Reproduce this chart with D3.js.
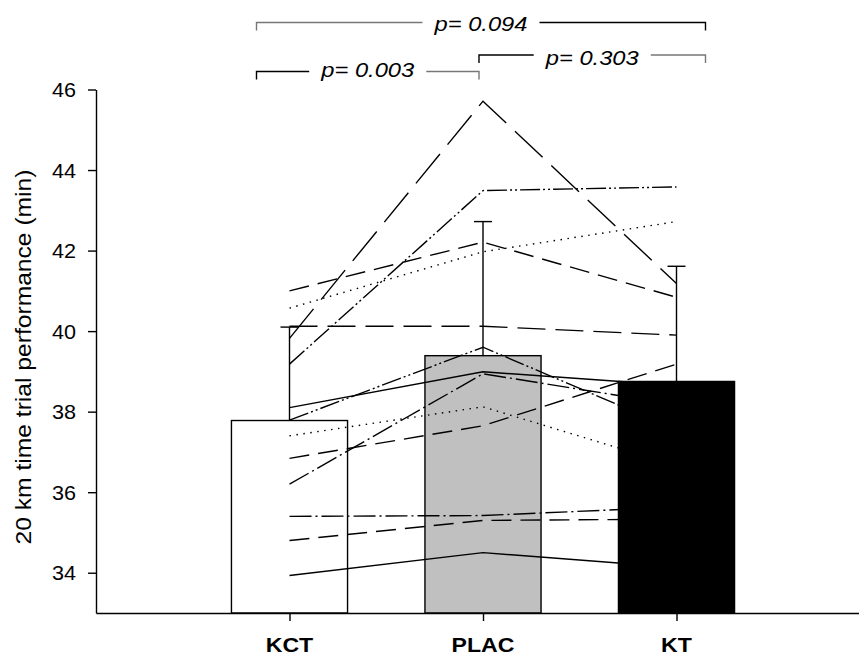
<!DOCTYPE html>
<meta charset="utf-8">
<style>
body { margin: 0; background: #fff; }
svg { display: block; }
text { font-family: "Liberation Sans", Arial, sans-serif; fill: #000; }
.axis path, .axis line { stroke: #000; stroke-width: 1.4; }
.subj { fill: none; stroke: #000; stroke-width: 1.4; }
</style>
<svg width="859" height="656"></svg>
<script src="https://cdnjs.cloudflare.com/ajax/libs/d3/7.8.5/d3.min.js"></script>
<script>

var groups = ["KCT", "PLAC", "KT"];
var means  = [37.78, 39.39, 38.75];
var sds    = [2.32, 3.33, 2.86];

// one entry per subject
var kct  = [33.93, 34.80, 35.40, 36.20, 36.84, 37.40, 37.79, 38.10, 39.18, 39.82, 40.12, 40.57, 41.00];
var plac = [34.50, 35.30, 35.42, 38.94, 37.65, 38.12, 39.60, 38.99, 43.49, 45.71, 40.12, 41.97, 42.21];
var kt   = [34.13, 35.33, 35.63, 38.17, 39.18, 36.66, 37.55, 38.65, 43.58, 41.18, 39.90, 42.72, 40.84];
var lineType = ["solid", "medium", "dashdot", "dashdot", "medium", "dotted", "dashdotdot",
                "solid", "dashdotdot", "long", "long2", "dotted", "medium"];

var yTicks = [34, 36, 38, 40, 42, 44, 46];

var pText = ["p= 0.094", "p= 0.003", "p= 0.303"];
var pFrom = [0, 0, 1];
var pTo   = [2, 1, 2];

var svg = d3.select("svg"),
    width = +svg.attr("width"),
    height = +svg.attr("height");

var x = d3.scaleLinear().domain([0, 4]).range([96, 870]);
var y = d3.scaleLinear().domain([33, 46]).range([613, 89.5]);

var barFill = ["#ffffff", "#c0c0c0", "#000000"];
var dashes = {
  solid: null,
  long: "38,12",
  long2: "28,10",
  medium: "20,9",
  dotted: "1.5,5.5",
  dashdot: "22,4,2,4",
  dashdotdot: "20,3,2,3,2,3"
};

// bars
svg.append("g")
  .selectAll("rect")
  .data(means)
  .enter().append("rect")
    .attr("x", function(d, i) { return x(i + 1 - 0.3); })
    .attr("width", x(0.6) - x(0))
    .attr("y", function(d) { return y(d); })
    .attr("height", function(d) { return y(33) - y(d); })
    .attr("fill", function(d, i) { return barFill[i]; })
    .attr("stroke", "#000")
    .attr("stroke-width", 1.4);

// error bars (upper only)
var eb = svg.append("g").attr("stroke", "#000").attr("stroke-width", 1.4);
means.forEach(function(m, i) {
  var cx = x(i + 1);
  eb.append("line").attr("x1", cx).attr("x2", cx).attr("y1", y(m)).attr("y2", y(m + sds[i]));
  eb.append("line").attr("x1", cx - 9).attr("x2", cx + 9).attr("y1", y(m + sds[i])).attr("y2", y(m + sds[i]));
});

// individual subjects
var line = d3.line().x(function(d) { return x(d[0]); }).y(function(d) { return y(d[1]); });
var subjects = kct.map(function(v, i) { return [[1, kct[i]], [2, plac[i]], [3, kt[i]]]; });

svg.append("g")
  .selectAll("path")
  .data(subjects)
  .enter().append("path")
    .attr("class", "subj")
    .attr("d", line)
    .attr("stroke-dasharray", function(d, i) { return dashes[lineType[i]]; });

// axes
var yAxis = svg.append("g")
    .attr("class", "axis")
    .attr("transform", "translate(" + x(0) + ",0)")
    .call(d3.axisLeft(y).tickValues(yTicks).tickSize(8).tickSizeOuter(0).tickFormat(d3.format("d")));
yAxis.selectAll("text")
    .attr("x", null)
    .attr("dy", "0.36em")
    .attr("transform", "translate(-20,0) scale(1.08,1)")
    .style("font-size", "20px")
    .style("font-family", "'Liberation Sans', Arial, sans-serif");

var xAxis = svg.append("g")
    .attr("class", "axis")
    .attr("transform", "translate(0," + y(33) + ")")
    .call(d3.axisBottom(x).tickValues([1, 2, 3]).tickSize(8).tickSizeOuter(0).tickFormat(""));

svg.append("g")
  .selectAll("text")
  .data(groups)
  .enter().append("text")
    .attr("transform", function(d, i) { return "translate(" + x(i + 1) + ",652) scale(1.1,1)"; })
    .attr("text-anchor", "middle")
    .style("font-size", "21px")
    .style("font-weight", "bold")
    .text(function(d) { return d; });

svg.append("text")
    .attr("transform", "translate(31,357) rotate(-90) scale(1.12,1)")
    .attr("text-anchor", "middle")
    .style("font-size", "22px")
    .text("20 km time trial performance (min)");

// significance brackets
var leftOff = [-33, -4, 0], rightOff = [0, -4, 29];
var bLevel = [22.5, 71.5, 55];
var bBase = [31, 77, 65];
var bColL = ["#777", "#000", "#000"], bColR = ["#000", "#777", "#777"];
var br = svg.append("g").attr("stroke-width", 1.4).attr("fill", "none");

pText.forEach(function(t, k) {
  var x1 = x(pFrom[k] + 1) + leftOff[pFrom[k]],
      x2 = x(pTo[k] + 1) + rightOff[pTo[k]],
      yl = bLevel[k];
  var tx = svg.append("text")
      .attr("text-anchor", "middle")
      .style("font-size", "21px")
      .style("font-style", "italic")
      .text(t);
  var w = tx.node().getComputedTextLength() * 1.13;
  var cx = (x1 + x2) / 2;
  tx.attr("transform", "translate(" + cx + "," + bBase[k] + ") scale(1.13,1)");
  br.append("path")
    .attr("stroke", bColL[k])
    .attr("d", "M" + x1 + "," + (yl + 8) + "V" + yl + "H" + (cx - w / 2 - 12));
  br.append("path")
    .attr("stroke", bColR[k])
    .attr("d", "M" + (cx + w / 2 + 12) + "," + yl + "H" + x2 + "V" + (yl + 8));
});

</script>
